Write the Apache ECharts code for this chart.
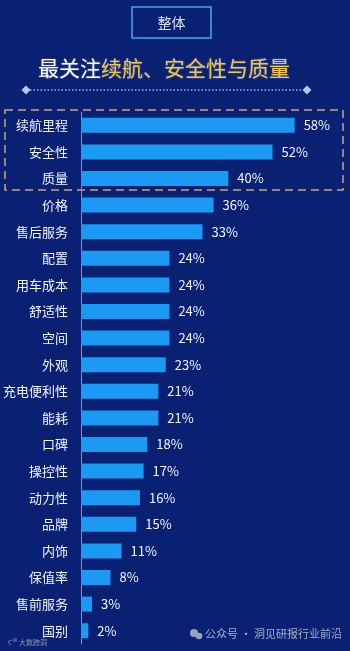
<!DOCTYPE html>
<html><head><meta charset="utf-8">
<style>html,body{margin:0;padding:0;background:#0a2072;}#c{width:350px;height:651px;}</style>
<script src="https://cdn.jsdelivr.net/npm/echarts@6/dist/echarts.min.js"></script>
</head><body><div id="c"></div>
<script>
var categories = ['续航里程','安全性','质量','价格','售后服务','配置','用车成本','舒适性','空间','外观','充电便利性','能耗','口碑','操控性','动力性','品牌','内饰','保值率','售前服务','国别'];
var values = [58,52,40,36,33,24,24,24,24,23,21,21,18,17,16,15,11,8,3,2];

var chart = echarts.init(document.getElementById('c'));
var F = '"Noto Sans CJK SC", "Noto Sans", sans-serif';
chart.setOption({
  backgroundColor: '#0a2072',
  animation: false,
  grid: {left: 77, top: 112, width: 225, height: 532, containLabel: false},
  xAxis: {type: 'value', min: 0, max: 60, show: false},
  yAxis: {
    type: 'category', data: categories, inverse: true,
    axisLine: {show: true, lineStyle: {color: '#7f95c8', width: 1}},
    axisTick: {show: false},
    axisLabel: {color: '#f2f5ff', fontSize: 13, fontFamily: F, margin: 13}
  },
  series: [{
    type: 'bar', data: values, barWidth: 15,
    itemStyle: {color: '#1b9af3'},
    label: {show: true, position: 'right', distance: 9, formatter: '{c}%', color: '#f2f5ff', fontSize: 13, fontFamily: F}
  }],
  graphic: [
    {type: 'rect', shape: {x: 132, y: 7, width: 79, height: 31}, style: {fill: 'rgba(0,0,0,0)', stroke: '#46a6f2', lineWidth: 1.5}},
    {type: 'text', x: 171.5, y: 22.5, style: {text: '整体', fill: '#d6e0f6', font: '14px ' + F, textAlign: 'center', textVerticalAlign: 'middle'}},
    {type: 'text', x: 38, y: 68, style: {
      rich: {w: {fill: '#ffffff', font: '21px ' + F}, y: {fill: '#f3c64c', font: '21px ' + F}},
      text: '{w|最关注}{y|续航、安全性与质量}', textVerticalAlign: 'middle',
      textShadowColor: 'rgba(255,255,255,0.35)', textShadowBlur: 2}},
    {type: 'line', shape: {x1: 30, y1: 90, x2: 303, y2: 90}, style: {stroke: '#93b2ee', lineWidth: 1.5, lineDash: [1.5, 2]}},
    {type: 'polygon', shape: {points: [[26,85.5],[30.5,90],[26,94.5],[21.5,90]]}, style: {fill: '#b4c8f2'}},
    {type: 'polygon', shape: {points: [[307,85.5],[311.5,90],[307,94.5],[302.5,90]]}, style: {fill: '#b4c8f2'}},
    {type: 'rect', shape: {x: 5, y: 110, width: 338, height: 80}, style: {fill: 'rgba(0,0,0,0)', stroke: '#c9a27a', lineWidth: 1.5, lineDash: [8, 5]}},
    {type: 'text', x: 8, y: 642, style: {text: 'ℂ⁰⁰ 大数跨洞', fill: '#8d97b8', font: '7px ' + F, textVerticalAlign: 'middle'}},
    {type: 'circle', shape: {cx: 194, cy: 633, r: 4}, style: {fill: '#9aa3bd'}},
    {type: 'circle', shape: {cx: 199, cy: 636, r: 3.3}, style: {fill: '#9aa3bd'}},
    {type: 'text', x: 205, y: 634, style: {text: '公众号 · 洞见研报行业前沿', fill: '#a7aec6', font: '11px ' + F, textVerticalAlign: 'middle'}}
  ]
});
</script></body></html>
